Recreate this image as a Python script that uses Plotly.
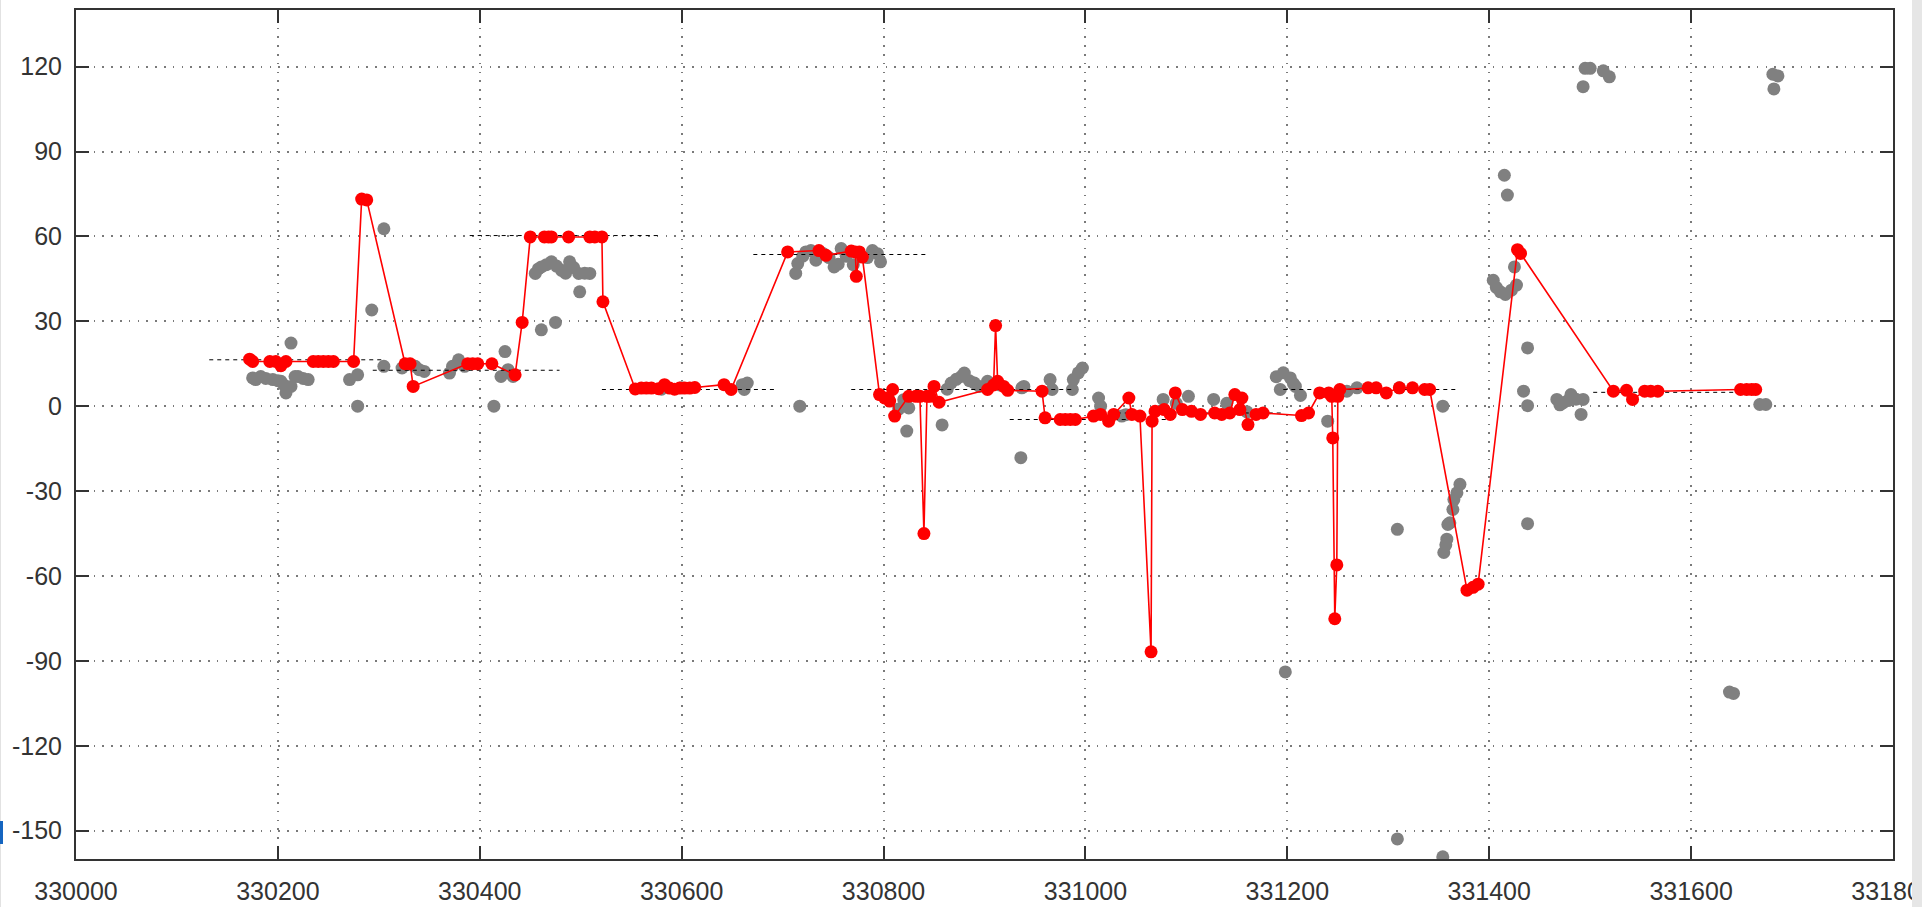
import plotly.graph_objects as go

# Raw samples (grey scatter)
raw_x = [
    330175, 330178, 330183, 330188, 330195, 330200, 330203, 330206, 330208, 330213,
    330213, 330217, 330220, 330225, 330230,
    330271, 330279, 330279, 330293, 330305, 330305, 330323, 330330, 330336, 330340, 330345,
    330370, 330373, 330379, 330385, 330414, 330421, 330425, 330428, 330433,
    330455, 330458, 330461, 330461, 330466, 330471, 330475, 330476, 330481, 330485,
    330489, 330493, 330498, 330499, 330504, 330509,
    330580, 330600, 330660, 330662, 330665,
    330713, 330715, 330717, 330720, 330723, 330728, 330733, 330740, 330746, 330751,
    330755, 330758, 330763, 330770, 330784, 330789, 330794, 330797,
    330805, 330815, 330820, 330823, 330825, 330858, 330863, 330867, 330872, 330877,
    330880, 330885, 330890, 330895, 330903, 330915,
    330936, 330937, 330939, 330965, 330967, 330987, 330988, 330993, 330997, 331013, 331015,
    331036, 331040, 331077, 331090, 331102, 331127, 331140, 331160,
    331189, 331193, 331196, 331198, 331203, 331206, 331208, 331213,
    331240, 331259, 331269, 331309, 331309, 331311, 331354, 331354, 331355, 331357,
    331358, 331359, 331361, 331364, 331365, 331368, 331371,
    331404, 331407, 331411, 331415, 331416, 331418, 331422, 331425, 331427, 331434,
    331438, 331438, 331438,
    331467, 331470, 331473, 331478, 331481, 331486, 331491, 331493, 331493, 331495,
    331500, 331513, 331519,
    331638, 331642, 331668, 331674, 331681, 331682, 331686,
]
raw_y = [
    10.0, 9.4, 10.5, 9.8, 9.4, 9.0, 8.8, 7.5, 4.7, 7.0,
    22.3, 10.5, 10.5, 9.8, 9.4,
    9.4, 11.1, 0.0, 34.0, 62.7, 14.1, 13.5, 14.8, 14.1, 12.9, 12.3,
    11.7, 14.1, 16.4, 14.1, 0.0, 10.5, 19.3, 12.9, 10.5,
    46.9, 48.5, 49.2, 27.0, 50.0, 51.0, 29.6, 49.5, 48.0, 47.0,
    51.0, 49.0, 46.9, 40.4, 47.0, 46.9,
    6.0, 6.5, 7.6, 5.9, 8.2,
    46.9, 50.4, 0.0, 53.0, 54.5, 55.0, 51.6, 54.0, 52.5, 49.2,
    50.2, 55.7, 53.0, 50.0, 52.5, 55.0, 53.9, 51.0,
    2.5, -1.0, 2.3, -8.8, -0.6, -6.6, 6.0, 8.2, 9.5, 10.5,
    11.7, 9.0, 8.2, 7.0, 8.8, 7.5,
    -18.2, 6.5, 7.0, 9.4, 5.9, 5.9, 9.4, 11.8, 13.5, 2.9, 0.0,
    -3.5, -3.0, 2.4, 1.0, 3.5, 2.4, 1.0, -2.0,
    10.4, 5.9, 11.8, -93.9, 10.0, 8.0, 7.0, 3.8,
    -5.3, 5.3, 6.5, -43.5, -152.9, 6.5, -159.2, 0.0, -51.7, -49.0,
    -47.0, -41.8, -41.2, -36.5, -33.0, -30.6, -27.6,
    44.5, 42.0, 40.4, 81.6, 39.5, 74.6, 41.0, 49.2, 42.8, 5.3,
    0.2, 20.6, -41.5,
    2.4, 0.5, 1.2, 2.0, 4.1, 2.5, -2.9, 2.4, 112.9, 119.4,
    119.4, 118.5, 116.4,
    -101.0, -101.5, 0.6, 0.6, 117.3, 112.1, 116.7,
]

# Filtered track (red line with markers)
track_x = [
    330172, 330175, 330192, 330198, 330203, 330208, 330235, 330240, 330245, 330250,
    330255, 330275, 330283, 330288, 330326, 330331, 330334, 330388, 330393, 330398,
    330412, 330435, 330442, 330450, 330464, 330468, 330471, 330488, 330509, 330514,
    330521, 330522, 330554, 330560, 330565, 330570, 330577, 330583, 330588, 330593,
    330598, 330603, 330608, 330613, 330642, 330649, 330705, 330736, 330743, 330768,
    330772, 330773, 330776, 330779, 330796, 330801, 330806, 330809, 330811, 330825,
    330832, 330836, 330840, 330843, 330846, 330850, 330855, 330903, 330909, 330911,
    330913, 330919, 330923, 330957, 330960, 330975, 330980, 330985, 330990, 331008,
    331015, 331023, 331028, 331043, 331046, 331054, 331065, 331066, 331069, 331078,
    331084, 331089, 331096, 331105, 331114, 331128, 331135, 331143, 331148, 331153,
    331155, 331161, 331169, 331176, 331214, 331221, 331232, 331241, 331244, 331245,
    331247, 331249, 331250, 331252, 331280, 331288, 331298, 331311, 331324, 331336,
    331341, 331378, 331384, 331389, 331428, 331431, 331523, 331536, 331542, 331554,
    331560, 331567, 331649, 331655, 331660, 331664,
]
track_y = [
    16.6, 15.8, 15.8, 15.8, 14.3, 15.8, 15.8, 15.8, 15.8, 15.8,
    15.8, 15.8, 73.2, 72.9, 15.0, 15.0, 7.0, 15.0, 15.0, 15.0,
    15.0, 11.1, 29.6, 59.8, 59.8, 59.8, 59.8, 59.8, 59.8, 59.8,
    59.8, 36.9, 6.1, 6.4, 6.4, 6.4, 6.2, 7.6, 6.4, 6.0,
    6.4, 6.4, 6.4, 6.6, 7.6, 5.9, 54.5, 55.0, 53.3, 54.8,
    54.5, 45.9, 54.5, 52.7, 4.1, 2.9, 1.8, 5.9, -3.5, 3.5,
    3.5, 3.5, -45.0, 3.5, 3.5, 7.0, 1.4, 5.9, 7.5, 28.5,
    8.8, 7.0, 5.6, 5.3, -4.1, -4.7, -4.7, -4.7, -4.7, -3.5,
    -2.9, -5.3, -2.9, 2.9, -2.9, -3.5, -86.8, -5.3, -1.8, -1.2,
    -2.9, 4.7, -1.2, -1.8, -2.9, -2.4, -2.9, -2.4, 4.1, -1.2,
    2.9, -6.5, -2.9, -2.4, -3.3, -2.4, 4.7, 4.7, 3.5, -11.2,
    -75.1, -56.1, 3.5, 5.9, 6.5, 6.5, 4.7, 6.5, 6.5, 5.9,
    5.9, -65.0, -64.0, -62.9, 55.3, 54.0, 5.3, 5.6, 2.4, 5.3,
    5.3, 5.3, 5.9, 5.9, 5.9, 5.9,
]

# Segment levels (black dashed)
seg_start = [330132, 330294, 330390, 330521, 330671, 330768, 330925, 331031, 331196, 331503]
seg_end = [330304, 330479, 330577, 330692, 330843, 330988, 331091, 331195, 331368, 331668]
seg_level = [16.4, 12.7, 60.3, 5.9, 53.6, 5.9, -4.7, -2.4, 5.9, 4.9]

# Axis ticks
x_ticks = [330000, 330200, 330400, 330600, 330800, 331000, 331200, 331400, 331600, 331800]
y_ticks = [120, 90, 60, 30, 0, -30, -60, -90, -120, -150]

seg_x, seg_y = [], []
for a, b, v in zip(seg_start, seg_end, seg_level):
    seg_x += [a, b, None]
    seg_y += [v, v, None]

fig = go.Figure()
fig.add_trace(go.Scatter(
    x=raw_x, y=raw_y, mode="markers",
    marker=dict(size=13, color="#808080"),
    hoverinfo="x+y",
))
fig.add_trace(go.Scatter(
    x=seg_x, y=seg_y, mode="lines",
    line=dict(color="#000000", width=1, dash="4px,4px"),
    hoverinfo="skip",
))
fig.add_trace(go.Scatter(
    x=track_x, y=track_y, mode="lines+markers",
    line=dict(color="#ff0000", width=1.6),
    marker=dict(size=13, color="#ff0000"),
    hoverinfo="x+y",
))

tick_font = dict(family="Liberation Sans, Arial, sans-serif", size=25, color="#333333")
axis_common = dict(
    showgrid=True, gridcolor="#7a7a7a", gridwidth=1.5, griddash="1.5px,7.3px",
    zeroline=False, showline=True, linewidth=2, linecolor="#333333",
    mirror="allticks", ticks="inside", ticklen=13, tickwidth=2, tickcolor="#333333",
    tickfont=tick_font, automargin=False,
)

fig.update_layout(
    width=1922, height=907,
    margin=dict(l=76, r=29, t=10, b=48),
    paper_bgcolor="white", plot_bgcolor="white",
    showlegend=False,
    xaxis=dict(range=[330000, 331800], tickmode="array", tickvals=x_ticks,
               ticktext=[str(t) for t in x_ticks], ticklabelstandoff=9,
               ticklabeloverflow="allow", **axis_common),
    yaxis=dict(range=[-160, 140], tickmode="array", tickvals=y_ticks,
               ticktext=[str(t) for t in y_ticks], ticklabelstandoff=7,
               ticklabeloverflow="allow", **axis_common),
    shapes=[
        # window strip on the right edge
        dict(type="rect", xref="paper", yref="paper",
             x0=(1912 - 76) / 1817, x1=1.03, y0=-0.07, y1=1.03,
             fillcolor="#e6e6e6", line=dict(width=0), layer="above"),
        # thin frame line on the left edge
        dict(type="rect", xref="paper", yref="paper",
             x0=-76 / 1817, x1=-75 / 1817, y0=-0.07, y1=1.03,
             fillcolor="#e2e2e2", line=dict(width=0), layer="above"),
        dict(type="rect", xref="paper", yref="paper",
             x0=-76 / 1817, x1=-73 / 1817, y0=(859 - 844) / 849, y1=(859 - 821) / 849,
             fillcolor="#1565c0", line=dict(width=0), layer="above"),
    ],
)

fig.write_html("out.html")
